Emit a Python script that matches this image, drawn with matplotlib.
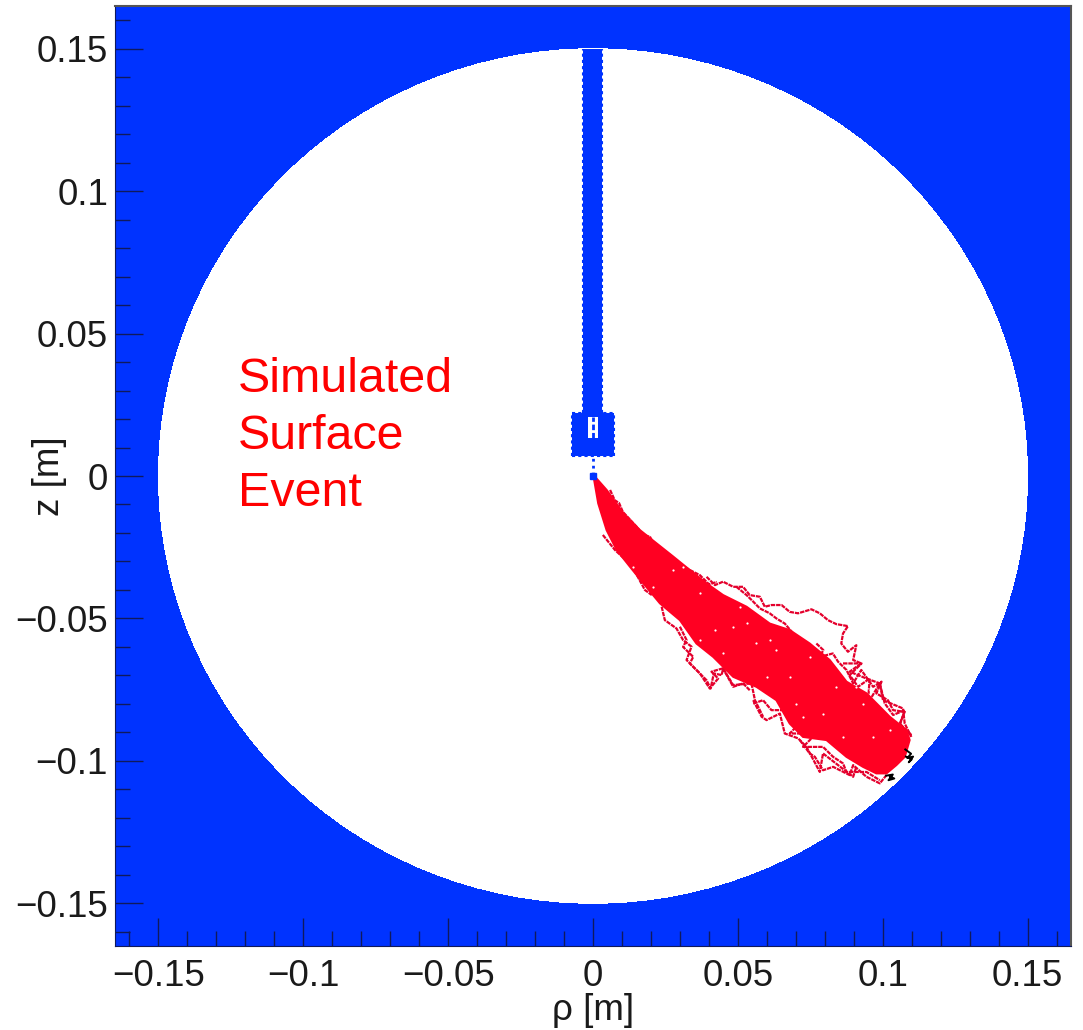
# surface event plot: electrode geometry (blue) and simulated drift paths (red)
import matplotlib
matplotlib.use('Agg')
import matplotlib.pyplot as plt
from matplotlib.patches import Circle, Rectangle, Polygon

plt.rcParams['font.family'] = ['Liberation Sans', 'DejaVu Sans']

BLUE = '#0033FF'
RED = '#FF0022'
TRACE = '#E4002C'

# axis
xy_lim = 0.165
radius = 0.15
major_ticks = [-0.15, -0.1, -0.05, 0, 0.05, 0.1, 0.15]
major_labels = ['\u22120.15', '\u22120.1', '\u22120.05', '0', '0.05', '0.1', '0.15']
minor_ticks = [-0.16, -0.14, -0.13, -0.12, -0.11, -0.09, -0.08, -0.07, -0.06,
               -0.04, -0.03, -0.02, -0.01, 0.01, 0.02, 0.03, 0.04,
               0.06, 0.07, 0.08, 0.09, 0.11, 0.12, 0.13, 0.14, 0.16]

# contact geometry
stem_x = [-0.0034, 0.0031]
stem_y = [0.0221, 0.15]
block_x = [-0.0072, 0.0072]
block_y = [0.0070, 0.0221]
slot_x = [-0.0017, 0.0017]
slot_y = [0.0133, 0.0207]
wire_y = [0.0005, 0.0070]

# dense part of the charge cloud
body_x = [0.0001, 0.0047, 0.0105, 0.0162, 0.0220, 0.0277, 0.0334, 0.0392, 0.0449,
          0.0530, 0.0610, 0.0679, 0.0748, 0.0817, 0.0875, 0.0944, 0.0990, 0.1024,
          0.1082, 0.1093, 0.1076, 0.1047, 0.1013, 0.0978, 0.0932, 0.0875, 0.0806,
          0.0725, 0.0679, 0.0633, 0.0564, 0.0484, 0.0415, 0.0357, 0.0300, 0.0231,
          0.0174, 0.0128, 0.0082, 0.0047, 0.0018]
body_y = [0.0004, -0.0049, -0.0131, -0.0190, -0.0237, -0.0283, -0.0330, -0.0377, -0.0418,
          -0.0459, -0.0518, -0.0541, -0.0588, -0.0646, -0.0722, -0.0763, -0.0810, -0.0845,
          -0.0892, -0.0927, -0.0986, -0.1015, -0.1044, -0.1044, -0.1021, -0.0986, -0.0927,
          -0.0916, -0.0869, -0.0787, -0.0740, -0.0705, -0.0635, -0.0588, -0.0506, -0.0447,
          -0.0377, -0.0319, -0.0260, -0.0190, -0.0096]

# stray paths outside the dense part
upper_x = [0.0392, 0.0421, 0.0449, 0.0484, 0.0518, 0.0541, 0.0576, 0.0593, 0.0616, 0.0651,
           0.0679, 0.0708, 0.0754, 0.0783, 0.0811, 0.0840, 0.0880, 0.0863, 0.0857, 0.0880,
           0.0909, 0.0898, 0.0926, 0.0886, 0.0944, 0.0990, 0.1001, 0.1070, 0.1076, 0.1099]
upper_y = [-0.0354, -0.0383, -0.0371, -0.0389, -0.0389, -0.0418, -0.0424, -0.0459, -0.0453, -0.0453,
           -0.0477, -0.0482, -0.0468, -0.0482, -0.0506, -0.0520, -0.0527, -0.0553, -0.0588, -0.0617,
           -0.0594, -0.0646, -0.0658, -0.0687, -0.0711, -0.0728, -0.0787, -0.0816, -0.0869, -0.0916]
upper2_x = [0.0495, 0.0530, 0.0553, 0.0576, 0.0610, 0.0633, 0.0662, 0.0691]
upper2_y = [-0.0389, -0.0418, -0.0441, -0.0465, -0.0482, -0.0500, -0.0518, -0.0553]
upper3_x = [0.0059, 0.0075, 0.0090, 0.0103, 0.0125, 0.0155, 0.0170, 0.0197, 0.0210, 0.0240,
            0.0266, 0.0285, 0.0310, 0.0334, 0.0369, 0.0400, 0.0428]
upper3_y = [-0.0049, -0.0085, -0.0095, -0.0126, -0.0150, -0.0183, -0.0205, -0.0214, -0.0240, -0.0262,
            -0.0277, -0.0305, -0.0315, -0.0330, -0.0348, -0.0380, -0.0372]
right_x = [0.0771, 0.0795, 0.0783, 0.0828, 0.0846, 0.0875, 0.0898, 0.0926, 0.0967, 0.0996,
           0.0978, 0.1018, 0.1036, 0.1076, 0.1059, 0.1099]
right_y = [-0.0588, -0.0611, -0.0635, -0.0623, -0.0652, -0.0681, -0.0728, -0.0681, -0.0740, -0.0722,
           -0.0763, -0.0787, -0.0822, -0.0828, -0.0869, -0.0910]
right2_x = [0.0863, 0.0927, 0.0886, 0.0915, 0.0955, 0.0949, 0.0990, 0.1007, 0.1036, 0.1076, 0.1059, 0.1099]
right2_y = [-0.0658, -0.0658, -0.0699, -0.0740, -0.0711, -0.0798, -0.0728, -0.0798, -0.0839, -0.0822, -0.0875, -0.0910]
lower_x = [0.0237, 0.0248, 0.0288, 0.0311, 0.0340, 0.0323, 0.0357, 0.0392, 0.0406, 0.0417,
           0.0444, 0.0449, 0.0484, 0.0518, 0.0541]
lower_y = [-0.0459, -0.0506, -0.0535, -0.0576, -0.0599, -0.0646, -0.0681, -0.0717, -0.0746, -0.0693,
           -0.0699, -0.0676, -0.0740, -0.0728, -0.0752]
lower2_x = [0.0553, 0.0582, 0.0599, 0.0645, 0.0662, 0.0708, 0.0737, 0.0783, 0.0794, 0.0846, 0.0898, 0.0909]
lower2_y = [-0.0787, -0.0845, -0.0857, -0.0834, -0.0904, -0.0921, -0.0951, -0.1039, -0.0974, -0.1015, -0.1056, -0.1021]
lower3_x = [0.0553, 0.0587, 0.0616, 0.0668, 0.0702, 0.0679, 0.0725, 0.0771, 0.0725, 0.0794,
            0.0829, 0.0863, 0.0875, 0.0944, 0.0990]
lower3_y = [-0.0799, -0.0787, -0.0822, -0.0822, -0.0880, -0.0904, -0.0904, -0.0904, -0.0951, -0.0951,
            -0.0986, -0.1009, -0.1039, -0.1039, -0.1068]
lower4_x = [0.0300, 0.0323, 0.0311, 0.0346, 0.0334, 0.0369, 0.0403, 0.0432, 0.0409, 0.0449,
            0.0484, 0.0547, 0.0559, 0.0587]
lower4_y = [-0.0529, -0.0576, -0.0600, -0.0635, -0.0658, -0.0693, -0.0746, -0.0711, -0.0687, -0.0675,
            -0.0734, -0.0728, -0.0787, -0.0845]
lower5_x = [0.0714, 0.0748, 0.0766, 0.0794, 0.0829, 0.0886, 0.0898, 0.0944, 0.0990, 0.1013]
lower5_y = [-0.0927, -0.0974, -0.0986, -0.1033, -0.1021, -0.1050, -0.1015, -0.1056, -0.1079, -0.1050]
edge_x = [0.0034, 0.0076, 0.0133, 0.0179, 0.0203]
edge_y = [-0.0207, -0.0260, -0.0313, -0.0400, -0.0418]

# holes left inside the cloud
speck_x = [0.0421, 0.0484, 0.0564, 0.0610, 0.0679, 0.0748, 0.0840, 0.0909, 0.0530, 0.0507,
           0.0277, 0.0311, 0.0139, 0.0208, 0.0369, 0.0449, 0.0599, 0.0702, 0.0794, 0.0633,
           0.0932, 0.0955, 0.0967, 0.0863, 0.1024, 0.0725, 0.0369]
speck_y = [-0.0541, -0.0529, -0.0588, -0.0576, -0.0705, -0.0635, -0.0740, -0.0740, -0.0517, -0.0459,
           -0.0330, -0.0318, -0.0318, -0.0389, -0.0412, -0.0623, -0.0705, -0.0799, -0.0834, -0.0611,
           -0.0799, -0.0752, -0.0916, -0.0916, -0.0892, -0.0845, -0.0576]

# paths ending in black near the wall
black_x = [0.1078, 0.1098, 0.1085, 0.1105, 0.1090, 0.1100, 0.1080]
black_y = [-0.0960, -0.0975, -0.0990, -0.0985, -0.1005, -0.0995, -0.0985]
black2_x = [0.1012, 0.1035, 0.1020, 0.1040, 0.1025]
black2_y = [-0.1052, -0.1048, -0.1068, -0.1062, -0.1055]

label_lines = ['Simulated', 'Surface', 'Event']
label_y = [0.0340, 0.0140, -0.0060]

fig = plt.figure(figsize=(10.83, 10.30), dpi=100)
ax = fig.add_axes([115 / 1083, 1 - 946 / 1030, 956 / 1083, 940 / 1030])
ax.set_xlim(-xy_lim, xy_lim)
ax.set_ylim(-xy_lim, xy_lim)
ax.set_facecolor(BLUE)

# vacuum vessel is everything inside the radius
ax.add_patch(Circle((0, 0), radius, fc='white', ec='none', antialiased=False, zorder=1))

# contact
ax.add_patch(Rectangle((stem_x[0], stem_y[0]), stem_x[1] - stem_x[0], stem_y[1] - stem_y[0],
                       fc=BLUE, ec='none', zorder=2))
ax.add_patch(Rectangle((block_x[0], block_y[0]), block_x[1] - block_x[0], block_y[1] - block_y[0],
                       fc=BLUE, ec='none', zorder=2))
ax.add_patch(Rectangle((slot_x[0], slot_y[0]), slot_x[1] - slot_x[0], slot_y[1] - slot_y[0],
                       fc='white', ec='none', zorder=3))
ax.plot([0, 0], slot_y, color=BLUE, lw=2, ls=(0, (2, 1)), zorder=4)
for x in stem_x:
    ax.plot([x, x], stem_y, color=BLUE, lw=1.5, ls=(0, (1.5, 1.5)), zorder=2)
for x in block_x:
    ax.plot([x, x], block_y, color=BLUE, lw=1.5, ls=(0, (1.5, 1.5)), zorder=2)
for y in block_y:
    ax.plot(block_x, [y, y], color=BLUE, lw=1.5, ls=(0, (1.5, 1.5)), zorder=2)
ax.plot([0, 0], wire_y, color=BLUE, lw=2, ls=(0, (1, 1.5)), zorder=2)
ax.plot([0], [0], marker='s', ms=4, color=BLUE, zorder=6)

# charge cloud
ax.add_patch(Polygon(list(zip(body_x, body_y)), closed=True, fc=RED, ec=RED, lw=1.5, zorder=5))
for px, py in [(upper_x, upper_y), (upper2_x, upper2_y), (upper3_x, upper3_y), (right_x, right_y),
               (right2_x, right2_y), (lower_x, lower_y), (lower2_x, lower2_y), (lower3_x, lower3_y),
               (lower4_x, lower4_y), (lower5_x, lower5_y), (edge_x, edge_y)]:
    ax.plot(px, py, color=TRACE, lw=1.6, ls=(0, (2, 0.4)), zorder=4)
ax.scatter(speck_x, speck_y, s=2.5, color='white', linewidths=0, zorder=5.5)
ax.plot(black_x, black_y, color='black', lw=1.4, zorder=6)
ax.plot(black2_x, black2_y, color='black', lw=1.4, zorder=6)

for line, y in zip(label_lines, label_y):
    ax.text(-0.1225, y, line, color='#FF0000', fontsize=34.8, ha='left', va='center', zorder=7)

ax.set_xticks(major_ticks)
ax.set_xticklabels(major_labels)
ax.set_yticks(major_ticks)
ax.set_yticklabels(major_labels)
ax.set_xticks(minor_ticks, minor=True)
ax.set_yticks(minor_ticks, minor=True)
ax.tick_params(which='major', direction='in', length=20, width=1, color='#101a5c',
               labelsize=26.5, labelcolor='#1a1a1a')
ax.tick_params(axis='x', which='major', pad=9)
ax.tick_params(axis='y', which='major', pad=5)
ax.tick_params(which='minor', direction='in', length=10.5, width=1, color='#101a5c')

ax.set_xlabel('\u03c1 [m]', fontsize=26.5, color='#1a1a1a', va='center')
ax.set_ylabel('z [m]', fontsize=26.5, color='#1a1a1a', va='center')
ax.xaxis.set_label_coords(0.5, -0.069)
ax.yaxis.set_label_coords(-0.068, 0.5)

for side in ['left', 'bottom']:
    ax.spines[side].set_color('#101a5c')
for side in ['top', 'right']:
    ax.spines[side].set_color('#555555')
    ax.spines[side].set_linewidth(1.5)

fig.savefig('out.png', dpi=100)
